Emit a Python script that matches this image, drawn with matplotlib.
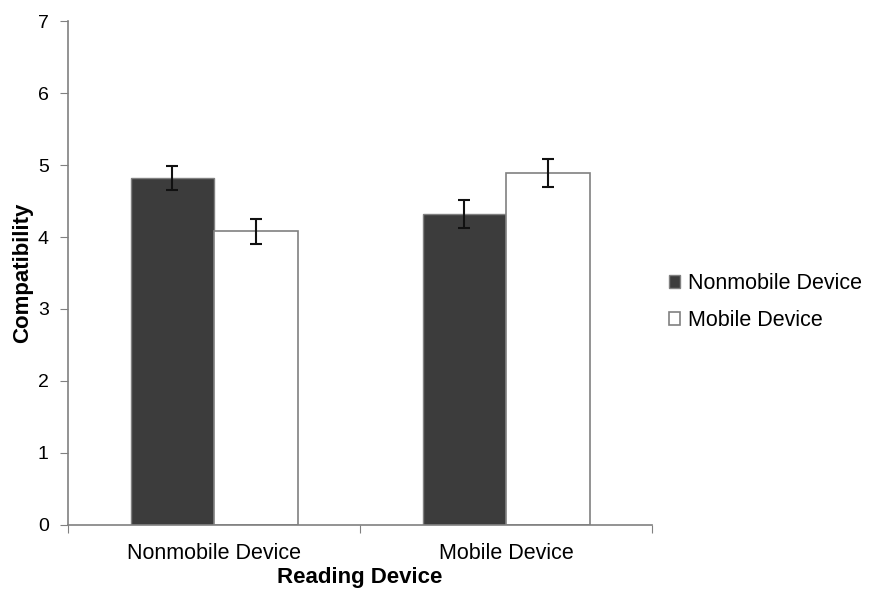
import numpy as np
import matplotlib
matplotlib.use('Agg')
import matplotlib.pyplot as plt

plt.rcParams['font.family'] = ['Liberation Sans', 'DejaVu Sans']

# data
groups = ['Nonmobile Device', 'Mobile Device']
series = ['Nonmobile Device', 'Mobile Device']
nonmobile_vals = [4.82, 4.32]
nonmobile_err = [0.17, 0.19]
mobile_vals = [4.08, 4.89]
mobile_err = [0.17, 0.19]

fig = plt.figure(figsize=(8.74, 5.89), dpi=100)
ax = fig.add_axes([0.078, 0.109, 0.668, 0.855])

x = np.arange(len(groups))
w = 0.286
ekw = dict(ecolor='#111111', elinewidth=1.5, capsize=4, capthick=1.5)
ax.bar(x - w / 2, nonmobile_vals, w, yerr=nonmobile_err, color='#3c3c3c',
       edgecolor='#808080', linewidth=1, label=series[0], error_kw=ekw)
ax.bar(x + w / 2, mobile_vals, w, yerr=mobile_err, color='white',
       edgecolor='#808080', linewidth=1.2, label=series[1], error_kw=ekw)

ax.set_xlim(-0.5, len(groups) - 0.5)
ax.set_ylim(0, 7)
ax.set_yticks(range(0, 8))

# group boundary ticks, labels at group centres
ax.set_xticks(np.arange(-0.5, len(groups), 1.0))
ax.set_xticklabels([])
ax.set_xticks(x, minor=True)
ax.set_xticklabels(groups, minor=True)
ax.tick_params(axis='x', which='major', length=6, color='#808080', direction='out')
ax.tick_params(axis='x', which='minor', length=0, pad=13, labelsize=15.5)
ax.tick_params(axis='y', length=6, color='#808080', labelsize=14, pad=8)

for s in ['top', 'right']:
    ax.spines[s].set_visible(False)
for s in ['left', 'bottom']:
    ax.spines[s].set_color('#808080')
    ax.spines[s].set_linewidth(1.2)

ax.set_ylabel('Compatibility', fontsize=16, fontweight='bold', labelpad=3)
ax.set_xlabel('Reading Device', fontsize=16, fontweight='bold', labelpad=2.5)

fig.legend(loc='center left', bbox_to_anchor=(0.765, 0.487), frameon=False,
           fontsize=15.5, handlelength=0.55, handleheight=0.55, handletextpad=0.35,
           labelspacing=0.72, borderpad=0, borderaxespad=0)

fig.savefig('out.png', dpi=100)
